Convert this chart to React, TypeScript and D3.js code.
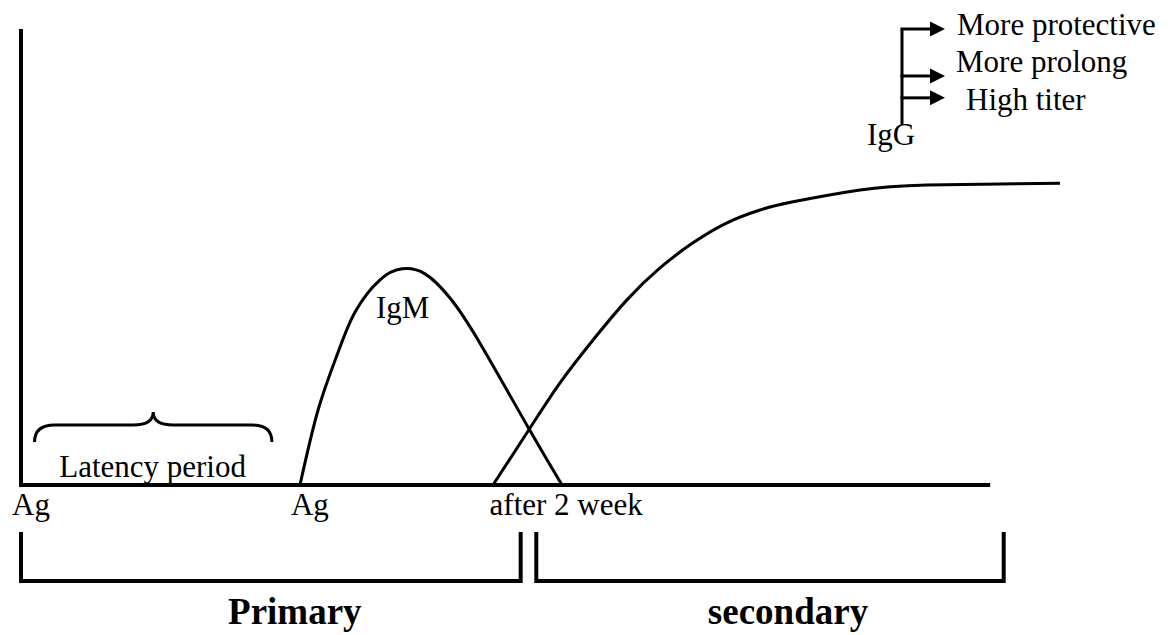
import * as d3 from "d3";

const WIDTH = 1173;
const HEIGHT = 635;
const FONT = "'Liberation Serif', 'Times New Roman', serif";

// time axis in arbitrary units (0..100), antibody level 0..100
const IGM_T = [26.8, 28.53, 30.36, 32.08, 34.49, 36.6, 38.81, 41.21, 44.09, 48.7, 51.97];
const IGM_LEVEL = [0, 16.4, 28.5, 37.9, 45.0, 47.4, 46.3, 41.0, 31.1, 12.7, 0];

const IGG_T = [45.34, 48.9, 51.78, 54.95, 58.21, 61.38, 64.55, 67.82, 70.99, 74.16, 80.6, 87.03, 99.81];
const IGG_LEVEL = [0, 12.5, 22.4, 31.8, 40.6, 47.6, 53.1, 57.5, 60.3, 62.1, 64.7, 65.8, 66.2];

const TICK_T = [0, 26.8, 45.3];
const TICK_LABELS = ["Ag", "Ag", "after 2 week"];

const PHASE_LABELS = ["Primary", "secondary"];
const PHASE_START = [0, 49.5];
const PHASE_END = [48.0, 94.4];

const LATENCY = [1.3, 24.1];
const AXIS_END = 93.1;

const IGG_NOTES = ["More protective", "More prolong", "High titer"];
const IGG_NOTE_LEVEL = [100, 89.7, 84.9];

const x = d3.scaleLinear().domain([0, 100]).range([21, 1062]);
const y = d3.scaleLinear().domain([0, 100]).range([485, 29]);

const line = d3
  .line<[number, number]>()
  .x((d) => x(d[0]))
  .y((d) => y(d[1]))
  .curve(d3.curveNatural);

export default function App() {
  const igm = IGM_T.map((t, i) => [t, IGM_LEVEL[i]] as [number, number]);
  const igg = IGG_T.map((t, i) => [t, IGG_LEVEL[i]] as [number, number]);

  const bx0 = x(LATENCY[0]);
  const bx1 = x(LATENCY[1]);
  const bmid = (bx0 + bx1) / 2;
  const braceY = 425;
  const brace = `M${bx0},442 Q${bx0},${braceY} ${bx0 + 20},${braceY} L${bmid - 20},${braceY} Q${bmid},${braceY} ${bmid},412 Q${bmid},${braceY} ${bmid + 20},${braceY} L${bx1 - 20},${braceY} Q${bx1},${braceY} ${bx1},442`;

  const stemX = 902;
  const tipX = 945;

  return (
    <svg
      width={WIDTH}
      height={HEIGHT}
      style={{ position: "absolute", left: 0, top: 0, background: "#fff" }}
      fontFamily={FONT}
    >
      {/* axes */}
      <line x1={x(0)} x2={x(0)} y1={y(100)} y2={y(0) + 2} stroke="#000" strokeWidth={4} />
      <line x1={x(0) - 2} x2={x(AXIS_END)} y1={y(0)} y2={y(0)} stroke="#000" strokeWidth={4} />

      {/* curves */}
      <path d={line(igm) ?? ""} fill="none" stroke="#000" strokeWidth={3} />
      <path d={line(igg) ?? ""} fill="none" stroke="#000" strokeWidth={3} />

      <text x={376} y={318} fontSize={31}>IgM</text>

      {/* latency brace */}
      <path d={brace} fill="none" stroke="#000" strokeWidth={3} />
      <text x={bmid - 94} y={477} fontSize={31}>Latency period</text>

      {/* x labels */}
      {TICK_T.map((t, i) => (
        <text key={i} x={x(t) + (i === 2 ? -3 : -9)} y={515} fontSize={31}>
          {TICK_LABELS[i]}
        </text>
      ))}

      {/* phase brackets */}
      {PHASE_LABELS.map((label, i) => {
        const a = x(PHASE_START[i]);
        const b = x(PHASE_END[i]);
        return (
          <g key={label}>
            <path d={`M${a},532 L${a},581 L${b},581 L${b},532`} fill="none" stroke="#000" strokeWidth={4} />
            <text x={(a + b) / 2 + (i === 0 ? 24 : 18)} y={624} fontSize={37} fontWeight="bold" textAnchor="middle">
              {label}
            </text>
          </g>
        );
      })}

      {/* IgG properties */}
      <line x1={stemX} x2={stemX} y1={y(IGG_NOTE_LEVEL[0])} y2={125} stroke="#000" strokeWidth={3} />
      {IGG_NOTES.map((note, i) => {
        const yy = y(IGG_NOTE_LEVEL[i]);
        return (
          <g key={note}>
            <line x1={stemX - 1.5} x2={tipX - 14} y1={yy} y2={yy} stroke="#000" strokeWidth={3} />
            <path d={`M${tipX - 15},${yy - 7.5} L${tipX},${yy} L${tipX - 15},${yy + 7.5} Z`} fill="#000" />
          </g>
        );
      })}
      <text x={957} y={35} fontSize={31}>More protective</text>
      <text x={956} y={72} fontSize={31}>More prolong</text>
      <text x={966} y={110} fontSize={31}>High titer</text>
      <text x={867} y={145} fontSize={31}>IgG</text>
    </svg>
  );
}
